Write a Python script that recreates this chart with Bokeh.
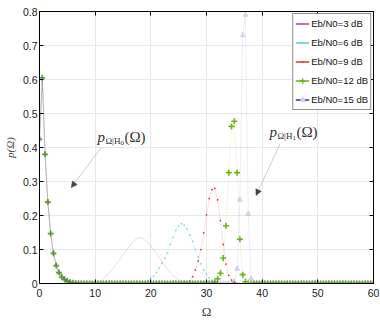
import numpy as np
from bokeh.plotting import figure
from bokeh.models import (FixedTicker, LinearAxis, Legend, LegendItem, Label,
                          Arrow, NormalHead, Range1d, CustomLabelingPolicy)
from bokeh.embed import file_html
from bokeh.resources import INLINE

# ---------------- data ----------------
omega_step = 0.5
omega = np.arange(0, 60 + omega_step / 2, omega_step)   # sampling grid 0..60

# p(Omega|H0): common to every Eb/N0, starts at Omega = 0
h0_pdf = [0.425, 0.605, 0.38, 0.24, 0.147, 0.089, 0.053, 0.032, 0.019,
          0.012, 0.007, 0.004, 0.002, 0.001, 0.0005]

# p(Omega|H1) bumps: (start Omega, values every 0.5)
h1_3db_start = 10.0
h1_3db = [0.0, 0.003, 0.008, 0.015, 0.022, 0.031, 0.040, 0.051, 0.062, 0.073,
          0.084, 0.095, 0.106, 0.117, 0.126, 0.132, 0.134, 0.133, 0.127, 0.119,
          0.110, 0.100, 0.089, 0.077, 0.064, 0.051, 0.040, 0.031, 0.023, 0.017,
          0.012, 0.008, 0.005, 0.003, 0.001]
h1_6db_start = 19.0
h1_6db = [0.003, 0.008, 0.015, 0.022, 0.032, 0.045, 0.060, 0.075, 0.090,
          0.115, 0.136, 0.156, 0.169, 0.176, 0.172, 0.160, 0.142, 0.124, 0.100,
          0.078, 0.058, 0.040, 0.027, 0.017, 0.010, 0.005, 0.002]
h1_9db_start = 26.5
h1_9db = [0.003, 0.008, 0.020, 0.040, 0.066, 0.100, 0.149, 0.202, 0.250,
          0.276, 0.280, 0.246, 0.185, 0.115, 0.057, 0.024, 0.010, 0.004]
h1_12db_start = 31.5
h1_12db = [0.004, 0.014, 0.030, 0.075, 0.170, 0.326, 0.462, 0.477, 0.326,
           0.130, 0.026, 0.005]
h1_15db_start = 35.0
h1_15db = [0.006, 0.043, 0.246, 0.730, 0.790, 0.205, 0.015]

series_labels = ["Eb/N0=3 dB", "Eb/N0=6 dB", "Eb/N0=9 dB", "Eb/N0=12 dB", "Eb/N0=15 dB"]

x_ticks = [0, 10, 20, 30, 40, 50, 60]
y_ticks = [0, 0.1, 0.2, 0.3, 0.4, 0.5, 0.6, 0.7, 0.8]
y_tick_labels = ["0", "0.1", "0.2", "0.3", "0.4", "0.5", "0.6", "0.7", "0.8"]


def build(start, vals):
    y = np.zeros(len(omega))
    y[:len(h0_pdf)] += np.array(h0_pdf)
    i0 = int(round(start / omega_step))
    y[i0:i0 + len(vals)] += np.array(vals)
    return y


curves = [build(h1_3db_start, h1_3db), build(h1_6db_start, h1_6db),
          build(h1_9db_start, h1_9db), build(h1_12db_start, h1_12db),
          build(h1_15db_start, h1_15db)]

# ---------------- styles ----------------
colors = ["#A646A6", "#5CC8E6", "#D83030", "#6AB41A", "#34349E"]
markers = [None, "dot", "dot", "cross", "triangle"]
marker_sizes = [0, 7, 7, 6, 5]
marker_alpha = [0, 0.75, 1.0, 1.0, 0.15]
line_alpha = [0.2, 0.16, 0.14, 0.1, 0.09]

p = figure(width=380, height=322, x_range=Range1d(0, 60), y_range=Range1d(0, 0.8),
           output_backend="svg", toolbar_location=None,
           min_border_left=38, min_border_right=7, min_border_top=11, min_border_bottom=39)
p.background_fill_color = "white"
p.border_fill_color = "white"
p.outline_line_color = "black"

# grid
p.xgrid.ticker = FixedTicker(ticks=x_ticks)
p.ygrid.ticker = FixedTicker(ticks=y_ticks)
for g in (p.xgrid, p.ygrid):
    g.grid_line_color = "#e8e8e8"
    g.grid_line_width = 1

TICK_FONT = "Liberation Sans"


def style_axis(ax, show_labels=True):
    ax.axis_line_color = "black"
    ax.major_tick_line_color = "black"
    ax.major_tick_in = 4
    ax.major_tick_out = 0
    ax.minor_tick_line_color = None
    ax.major_label_text_font = TICK_FONT
    ax.major_label_text_color = "#222222"
    if show_labels:
        ax.major_label_text_font_size = "10.5px"
    else:
        ax.major_label_text_font_size = "1px"
        ax.major_label_standoff = 0
        ax.major_label_policy = CustomLabelingPolicy(code="return new Set()")


style_axis(p.xaxis[0])
p.xaxis[0].ticker = FixedTicker(ticks=x_ticks)
p.xaxis[0].major_label_standoff = 5
p.xaxis[0].axis_label = "Ω"
p.xaxis[0].axis_label_text_font = "Liberation Serif"
p.xaxis[0].axis_label_text_font_style = "normal"
p.xaxis[0].axis_label_text_font_size = "13px"
p.xaxis[0].axis_label_standoff = 4

style_axis(p.yaxis[0])
p.yaxis[0].ticker = FixedTicker(ticks=y_ticks)
p.yaxis[0].major_label_overrides = {t: s for t, s in zip(y_ticks, y_tick_labels)}
p.yaxis[0].major_label_standoff = 2
p.yaxis[0].axis_label = "p(Ω)"
p.yaxis[0].axis_label_text_font = "Liberation Serif"
p.yaxis[0].axis_label_text_font_style = "italic"
p.yaxis[0].axis_label_text_font_size = "11px"
p.yaxis[0].axis_label_standoff = 4

top_ax = LinearAxis(ticker=FixedTicker(ticks=x_ticks))
style_axis(top_ax, show_labels=False)
p.add_layout(top_ax, "above")
right_ax = LinearAxis(ticker=FixedTicker(ticks=y_ticks))
style_axis(right_ax, show_labels=False)
p.add_layout(right_ax, "right")

# curves
for y, c, m, ms, ma, la in zip(curves, colors, markers, marker_sizes, marker_alpha, line_alpha):
    p.line(omega, y, line_color=c, line_alpha=la, line_width=1)
    if m is not None:
        if m == "cross":
            p.scatter(omega, y, marker=m, size=ms, line_color=c, line_alpha=ma,
                      line_width=1.6)
        else:
            p.scatter(omega, y, marker=m, size=ms, line_color=c, fill_color=c,
                      line_alpha=ma, fill_alpha=ma, line_width=1)

# legend (full-colour entries, drawn from renderers with no visible points)
items = []
for lab, c, m in zip(series_labels, colors, markers):
    rs = [p.line([np.nan], [np.nan], line_color=c, line_width=1.3)]
    if m == "cross":
        rs.append(p.scatter([np.nan], [np.nan], marker="cross", size=5, line_color=c,
                            line_width=1.3))
    elif m == "dot":
        rs.append(p.scatter([np.nan], [np.nan], marker="dot", size=5, line_color=c,
                            fill_color=c))
    elif m == "triangle":
        rs.append(p.scatter([np.nan], [np.nan], marker="triangle", size=3,
                            line_color="#d0d0ec", fill_color="#d0d0ec"))
    items.append(LegendItem(label=lab, renderers=rs))

legend = Legend(items=items, location="top_right")
legend.label_text_font = TICK_FONT
legend.label_text_font_size = "9.5px"
legend.label_text_color = "#111111"
legend.glyph_width = 14
legend.glyph_height = 15
legend.label_height = 15
legend.spacing = 4
legend.padding = 2
legend.margin = 2
legend.label_standoff = 2
legend.border_line_color = "#222222"
legend.border_line_width = 1
legend.background_fill_color = "white"
legend.background_fill_alpha = 1
p.add_layout(legend, "center")

# annotations
arrows = [(11.1, 0.40, 5.7, 0.282), (43.2, 0.41, 38.9, 0.259)]
for xs, ys, xe, ye in arrows:
    p.add_layout(Arrow(end=NormalHead(size=6, fill_color="#444444", line_color="#444444",
                                      line_width=0.5),
                       x_start=xs, y_start=ys, x_end=xe, y_end=ye,
                       line_color="#c0c0c0", line_width=0.8))

label_anchors = [(10.4, 0.432, "0"), (41.3, 0.447, "1")]
for ax_, ay_, sub in label_anchors:
    parts = [("p", 0, 0, "15px", "italic"),
             ("Ω|H", 8, -4, "9px", "normal"),
             (sub, 23, -6, "7px", "normal"),
             ("(Ω)", 27, 0, "15px", "normal")]
    for txt, dx, dy, fs, st in parts:
        p.add_layout(Label(x=ax_, y=ay_, x_offset=dx, y_offset=dy, text=txt,
                           text_font="Liberation Serif", text_font_size=fs,
                           text_font_style=st, text_color="#333333",
                           text_baseline="alphabetic"))

open("out.html", "w").write(file_html(p, INLINE))
